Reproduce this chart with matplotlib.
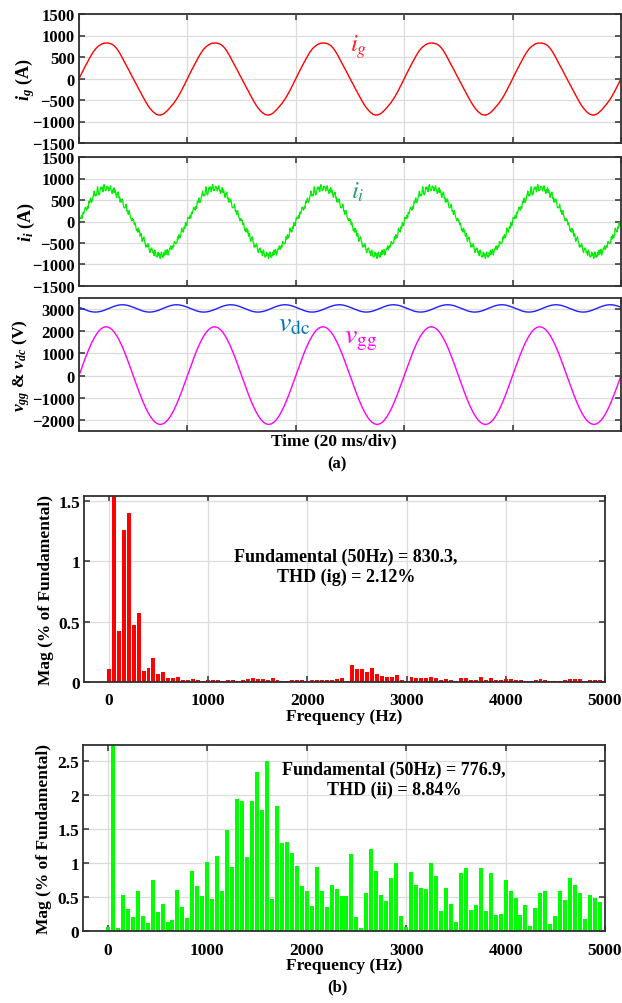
import numpy as np
import matplotlib
matplotlib.use("Agg")
import matplotlib.pyplot as plt

# ---------------- data ----------------
# harmonic spectra (% of fundamental), orders 0..99 -> 0..4950 Hz
ig_fund = 830.3
ig_thd = 2.12
ig_mag = [0.105, 100, 0.42, 1.26, 1.40, 0.47, 0.57, 0.088, 0.119, 0.196,
          0.064, 0.086, 0.033, 0.033, 0.041, 0.019, 0.019, 0.025, 0.019, 0.011,
          0.019, 0.017, 0.014, 0.011, 0.019, 0.014, 0.006, 0.019, 0.022, 0.033,
          0.025, 0.028, 0.017, 0.030, 0.017, 0.006, 0.006, 0.019, 0.019, 0.019,
          0.011, 0.019, 0.017, 0.017, 0.017, 0.017, 0.022, 0.036, 0.011, 0.138,
          0.108, 0.105, 0.080, 0.120, 0.064, 0.050, 0.041, 0.041, 0.061, 0.017,
          0.006, 0.041, 0.036, 0.030, 0.030, 0.044, 0.036, 0.014, 0.022, 0.014,
          0.006, 0.036, 0.036, 0.014, 0.017, 0.039, 0.017, 0.036, 0.014, 0.017,
          0.025, 0.022, 0.019, 0.014, 0.011, 0.006, 0.014, 0.022, 0.019, 0.011,
          0.011, 0.006, 0.017, 0.022, 0.028, 0.025, 0.011, 0.019, 0.019, 0.019]

ii_fund = 776.9
ii_thd = 8.84
ii_mag = [0.054, 100, 0.05, 0.53, 0.32, 0.21, 0.58, 0.225, 0.12, 0.75,
          0.28, 0.40, 0.13, 0.16, 0.60, 0.35, 0.19, 0.88, 0.66, 0.51,
          1.02, 0.47, 1.10, 0.59, 1.48, 0.94, 1.94, 1.91, 1.09, 1.91,
          2.33, 1.77, 2.49, 0.47, 1.83, 1.29, 1.31, 1.15, 0.96, 0.66,
          0.58, 0.36, 0.94, 0.59, 0.35, 0.68, 0.61, 0.52, 0.52, 1.13,
          0.21, 0.04, 0.56, 1.20, 0.88, 0.53, 0.44, 0.78, 1.00, 0.22,
          0.06, 0.87, 0.68, 0.63, 0.61, 1.00, 0.80, 0.29, 0.63, 0.40,
          0.13, 0.85, 0.92, 0.31, 0.38, 0.93, 0.29, 0.85, 0.24, 0.25,
          0.75, 0.59, 0.48, 0.24, 0.38, 0.07, 0.34, 0.56, 0.59, 0.10,
          0.22, 0.59, 0.46, 0.78, 0.68, 0.56, 0.18, 0.53, 0.49, 0.43]

f0 = 50.0                 # Hz
vgg_amp = 2200.0          # V
vdc_mean = 3030.0         # V
vdc_ripple = 165.0        # V, at 2*f0
vdc_phase = 1.25          # rad

# ---------------- styling ----------------
plt.rcParams['font.family'] = ['Liberation Serif', 'DejaVu Serif']
plt.rcParams['font.weight'] = 'normal'
plt.rcParams['mathtext.fontset'] = 'custom'
plt.rcParams['mathtext.rm'] = 'Liberation Serif:bold'
plt.rcParams['mathtext.it'] = 'Liberation Serif:italic:bold'
plt.rcParams['mathtext.bf'] = 'Liberation Serif:bold'

W, H = 622, 1004
fig = plt.figure(figsize=(W / 100, H / 100), dpi=100)

def box(l, r, t, b):
    return [l / W, 1 - b / H, (r - l) / W, (b - t) / H]

def style(ax, fs, xpad=3):
    for s in ax.spines.values():
        s.set_color('#303030')
        s.set_linewidth(1.3)
    ax.tick_params(direction='in', top=True, right=True, length=4,
                   width=1.1, color='#303030', labelsize=fs, pad=3)
    ax.tick_params(axis='x', pad=xpad)
    ax.grid(True, color='#dcdcdc', linewidth=0.9)
    ax.set_axisbelow(True)
    for lab in ax.get_xticklabels() + ax.get_yticklabels():
        lab.set_fontweight('bold')

# ---------------- time-domain waveforms from spectra ----------------
t = np.linspace(0, 0.1, 12001)
tms = t * 1e3
w = 2 * np.pi * f0
orders = np.arange(len(ig_mag))
phases = 2 * np.pi * ((orders ** 2 * 0.6180339887) % 1.0)
phases[1] = 0.0

def synth(fund, mags):
    y = np.zeros_like(t)
    for k, m in zip(orders, mags):
        if k == 0:
            y += fund * m / 100.0
        else:
            y += fund * m / 100.0 * np.sin(k * w * t + phases[k])
    return y

ig = synth(ig_fund, ig_mag)
ii = synth(ii_fund, ii_mag)
vgg = vgg_amp * np.sin(w * t)
vdc = vdc_mean + vdc_ripple * np.cos(2 * w * t + vdc_phase)

xt = [0, 20, 40, 60, 80, 100]
TL = 12  # tick label size top panels

# panel 1: ig
ax1 = fig.add_axes(box(79, 621, 15, 144))
ax1.plot(tms, ig, color='#ff0000', lw=1.0)
ax1.set_xlim(0, 100)
ax1.set_ylim(-1500, 1500)
ax1.set_yticks(np.arange(-1500, 1501, 500))
ax1.set_xticks(xt)
ax1.set_xticklabels([])
style(ax1, TL)
ax1.set_ylabel('$i_g$ (A)', fontsize=13, fontweight='bold')
ax1.yaxis.set_label_coords(-0.078, 0.5)
ax1.text(51.5, 750, '$i_g$', color='#ff2020', fontsize=18,
         math_fontfamily='stix', ha='center', va='center')

# panel 2: ii
ax2 = fig.add_axes(box(79, 621, 158, 287))
ax2.plot(tms, ii, color='#00ee00', lw=0.9)
ax2.set_xlim(0, 100)
ax2.set_ylim(-1500, 1500)
ax2.set_yticks(np.arange(-1500, 1501, 500))
ax2.set_xticks(xt)
ax2.set_xticklabels([])
style(ax2, TL)
ax2.set_ylabel('$i_i$ (A)', fontsize=13, fontweight='bold')
ax2.yaxis.set_label_coords(-0.078, 0.5)
ax2.text(51.5, 690, '$i_i$', color='#2aa070', fontsize=18,
         math_fontfamily='stix', ha='center', va='center')

# panel 3: vgg & vdc
ax3 = fig.add_axes(box(79, 621, 299, 432))
ax3.plot(tms, vdc, color='#2020ff', lw=1.0)
ax3.plot(tms, vgg, color='#ff00ff', lw=1.0)
ax3.set_xlim(0, 100)
ax3.set_ylim(-2500, 3500)
ax3.set_yticks(np.arange(-2000, 3001, 1000))
ax3.set_xticks(xt)
ax3.set_xticklabels([])
style(ax3, TL)
ax3.set_ylabel('$v_{gg}$ & $v_{dc}$ (V)', fontsize=12.5, fontweight='bold')
ax3.yaxis.set_label_coords(-0.086, 0.5)
ax3.text(39.7, 2330, r'$v_{\mathrm{dc}}$', color='#0072bd', fontsize=20,
         math_fontfamily='stix', ha='center', va='center')
ax3.text(52.0, 1650, r'$v_{\mathrm{gg}}$', color='#ff00ff', fontsize=20,
         math_fontfamily='stix', ha='center', va='center')
fig.text(334 / W, 1 - 441 / H, 'Time (20 ms/div)', ha='center', va='center',
         fontsize=12.5, fontweight='bold')
fig.text(337 / W, 1 - 464 / H, '(a)', ha='center', va='center',
         fontsize=12, fontweight='bold')

# spectra
freqs = orders * f0

ax4 = fig.add_axes(box(84, 605, 497, 683))
ax4.bar(freqs, ig_mag, width=40, color='#ff0000', edgecolor='none', zorder=2)
ax4.set_xlim(-250, 5000)
ax4.set_ylim(0, 1.54)
ax4.set_yticks([0, 0.5, 1, 1.5])
ax4.set_yticklabels(['0', '0.5', '1', '1.5'])
ax4.set_xticks([0, 1000, 2000, 3000, 4000, 5000])
style(ax4, 12.5, xpad=7)
ax4.set_ylabel('Mag (% of Fundamental)', fontsize=12.5, fontweight='bold')
ax4.yaxis.set_label_coords(-0.058, 0.5)
ax4.set_xlabel('Frequency (Hz)', fontsize=12.5, fontweight='bold', labelpad=0)
ax4.text(2390, 0.955, 'Fundamental (50Hz) = %.1f,\nTHD (ig) = %.2f%%' % (ig_fund, ig_thd),
         ha='center', va='center', fontsize=13, fontweight='bold', linespacing=1.2)

ax5 = fig.add_axes(box(83, 605, 746, 932))
ax5.bar(freqs, ii_mag, width=40, color='#00ff00', edgecolor='none', zorder=2)
ax5.set_xlim(-250, 5000)
ax5.set_ylim(0, 2.73)
ax5.set_yticks([0, 0.5, 1, 1.5, 2, 2.5])
ax5.set_yticklabels(['0', '0.5', '1', '1.5', '2', '2.5'])
ax5.set_xticks([0, 1000, 2000, 3000, 4000, 5000])
style(ax5, 12.5, xpad=8)
ax5.set_ylabel('Mag (% of Fundamental)', fontsize=12.5, fontweight='bold')
ax5.yaxis.set_label_coords(-0.059, 0.5)
ax5.set_xlabel('Frequency (Hz)', fontsize=12.5, fontweight='bold', labelpad=-1)
ax5.text(2880, 2.22, 'Fundamental (50Hz) = %.1f,\nTHD (ii) = %.2f%%' % (ii_fund, ii_thd),
         ha='center', va='center', fontsize=13, fontweight='bold', linespacing=1.2)
fig.text(337 / W, 1 - 987 / H, '(b)', ha='center', va='center',
         fontsize=12, fontweight='bold')

fig.savefig('out.png', dpi=100)
